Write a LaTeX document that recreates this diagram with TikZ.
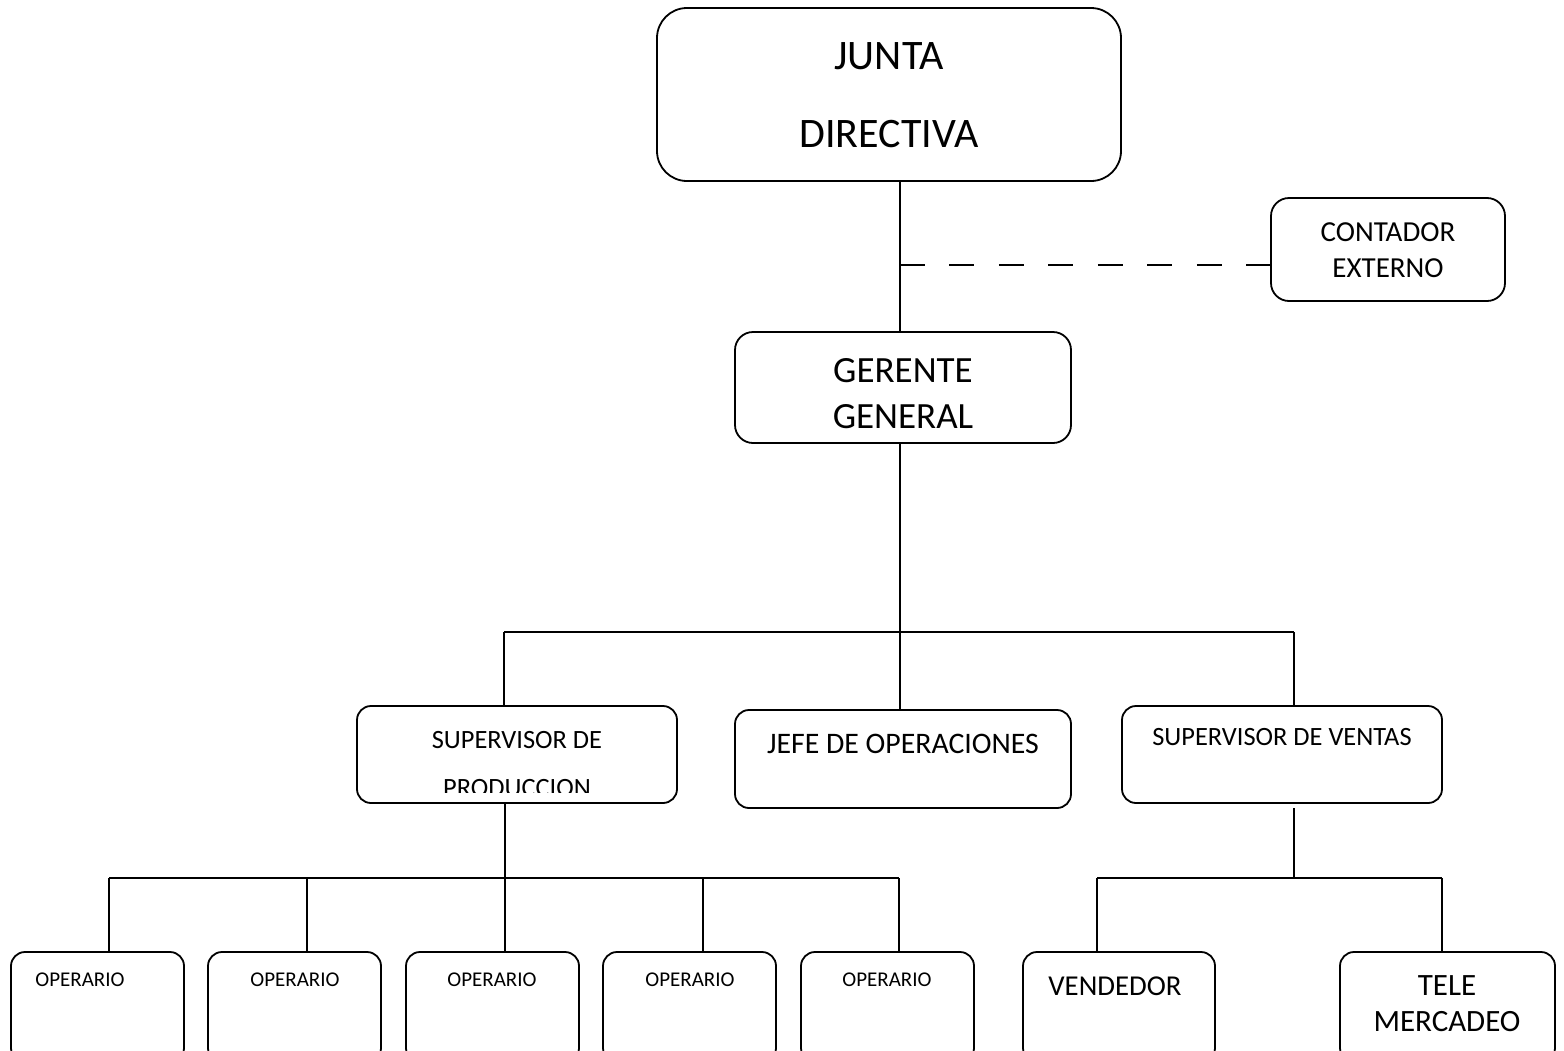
\documentclass[tikz,border=0pt]{standalone}
\usepackage{fontspec}
\setmainfont{Carlito}
\begin{document}
\begin{tikzpicture}[
  x=0.5pt, y=-0.5pt,
  box/.style={draw, line width=0.9pt, rounded corners=7pt, inner sep=0pt},
  txt/.style={align=center, inner sep=0pt},
  line/.style={line width=0.9pt},
  dashline/.style={line width=0.9pt, dash pattern=on 12.4pt off 12.33pt}
]
\useasboundingbox (0,0) rectangle (1564,1050);

% top levels
\node[box, rounded corners=15pt, minimum width=232pt, minimum height=86.5pt] (junta) at (889,94.5) {};
\node[txt, font=\fontsize{21}{39}\selectfont] (tjunta) at (889,95) {JUNTA\\DIRECTIVA};
\node[box, rounded corners=9pt, minimum width=117pt, minimum height=51.5pt] (contador) at (1388,249.5) {};
\node[txt, font=\fontsize{14.5}{18}\selectfont] (tcontador) at (1388,250) {CONTADOR\\EXTERNO};
\node[box, rounded corners=9pt, minimum width=168pt, minimum height=55.5pt] (gerente) at (903,387.5) {};
\node[txt, font=\fontsize{18.5}{23}\selectfont] (tgerente) at (903,394) {GERENTE\\GENERAL};

% second level
\node[box, minimum width=160pt, minimum height=48.5pt] (supprod) at (517,754.5) {};
\begin{scope}
  \clip (357,706) rectangle (677,792);
  \node[txt, font=\fontsize{13.2}{24}\selectfont] (tsupprod) at (517,764) {SUPERVISOR DE\\PRODUCCION};
\end{scope}
\node[box, minimum width=168pt, minimum height=49pt] (jefe) at (903,759) {};
\node[txt, font=\fontsize{14.9}{18}\selectfont] (tjefe) at (903,744) {JEFE DE OPERACIONES};
\node[box, minimum width=160pt, minimum height=48.5pt] (supventas) at (1282,754.5) {};
\node[txt, font=\fontsize{13.2}{18}\selectfont] (tsupventas) at (1282,737) {SUPERVISOR DE VENTAS};

% third level
\node[box, minimum width=86.5pt, minimum height=55pt] (op1) at (97.5,1007) {};
\node[box, minimum width=86.5pt, minimum height=55pt] (op2) at (294.5,1007) {};
\node[box, minimum width=86.5pt, minimum height=55pt] (op3) at (492.5,1007) {};
\node[box, minimum width=86.5pt, minimum height=55pt] (op4) at (689.5,1007) {};
\node[box, minimum width=86.5pt, minimum height=55pt] (op5) at (887.5,1007) {};
\node[txt, font=\fontsize{10.5}{12}\selectfont] (top1) at (80,980) {OPERARIO};
\node[txt, font=\fontsize{10.5}{12}\selectfont] (top2) at (295,980) {OPERARIO};
\node[txt, font=\fontsize{10.5}{12}\selectfont] (top3) at (492,980) {OPERARIO};
\node[txt, font=\fontsize{10.5}{12}\selectfont] (top4) at (690,980) {OPERARIO};
\node[txt, font=\fontsize{10.5}{12}\selectfont] (top5) at (887,980) {OPERARIO};
\node[box, minimum width=96pt, minimum height=55pt] (vendedor) at (1119,1007) {};
\node[txt, font=\fontsize{14.4}{18}\selectfont] (tvendedor) at (1115,986) {VENDEDOR};
\node[box, minimum width=107.5pt, minimum height=55pt] (tele) at (1447.5,1007) {};
\node[txt, font=\fontsize{15.5}{18}\selectfont] (ttele) at (1447,1004) {TELE\\MERCADEO};

% connectors
\coordinate (trunk) at (900,181);
\coordinate (dash) at (900,265);
\coordinate (bus1) at (900,632);
\coordinate (busl) at (504,632);
\coordinate (busr) at (1294,632);
\draw[line] (trunk) -- (trunk |- gerente.north);
\draw[dashline] (dash) -- (contador.west |- dash);
\draw[line] (bus1 |- gerente.south) -- (bus1 |- jefe.north);
\draw[line] (busl) -- (busr);
\draw[line] (busl) -- (busl |- supprod.north);
\draw[line] (busr) -- (busr |- supventas.north);

\coordinate (bus2) at (505,878);
\draw[line] (bus2 |- supprod.south) -- (bus2);
\draw[line] (109,878) -- (899,878);
\foreach \xx/\op in {109/op1, 307/op2, 505/op3, 703/op4, 899/op5}
  \draw[line] (\xx,878) -- (\xx,878 |- \op.north);

\coordinate (bus3) at (1294,878);
\draw[line] (1294,808) -- (bus3);
\draw[line] (1097,878) -- (1442,878);
\draw[line] (1097,878) -- (1097,878 |- vendedor.north);
\draw[line] (1442,878) -- (1442,878 |- tele.north);
\end{tikzpicture}
\end{document}
